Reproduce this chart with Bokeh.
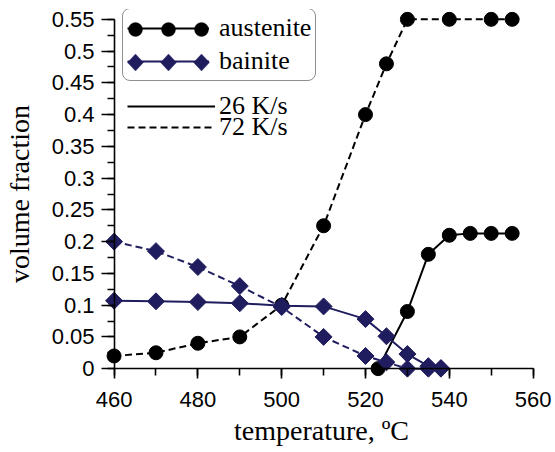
import math
from bokeh.plotting import figure
from bokeh.models import (Range1d, SingleIntervalTicker, CustomJSTickFormatter,
                          Legend, LegendItem, LinearAxis, PolyAnnotation)
from bokeh.embed import file_html
from bokeh.resources import INLINE

# ---- data ----
temp_aus_26 = [523, 530, 535, 540, 545, 550, 555]
aus_26 = [0.0, 0.09, 0.18, 0.21, 0.213, 0.213, 0.213]

temp_aus_72 = [460, 470, 480, 490, 500, 510, 520, 525, 530, 540, 550, 555]
aus_72 = [0.02, 0.025, 0.04, 0.05, 0.1, 0.225, 0.4, 0.48, 0.55, 0.55, 0.55, 0.55]

temp_bai_26 = [460, 470, 480, 490, 500, 510, 520, 525, 530, 535, 538]
bai_26 = [0.107, 0.106, 0.105, 0.103, 0.099, 0.098, 0.078, 0.051, 0.023, 0.004, 0.001]

temp_bai_72 = [460, 470, 480, 490, 500, 510, 520, 525, 530, 535, 538]
bai_72 = [0.2, 0.185, 0.16, 0.13, 0.097, 0.05, 0.02, 0.01, 0.0, 0.0, 0.0]

series_names = ["austenite", "bainite"]
rate_names = ["26 K/s", "72 K/s"]

# ---- styles ----
BLACK = "#000000"
NAVY = "#201d5f"
SERIF = "Liberation Serif"
SANS = "Liberation Sans"
DASH = "7 4"

p = figure(width=555, height=452, output_backend="svg", toolbar_location=None,
           x_range=Range1d(457, 562), y_range=Range1d(-0.0155, 0.5655),
           min_border_left=101, min_border_right=14, min_border_top=9,
           min_border_bottom=74)
p.outline_line_color = None
p.xgrid.visible = False
p.ygrid.visible = False
p.background_fill_color = "white"
p.border_fill_color = "white"

# austenite
a26_l = p.line(temp_aus_26, aus_26, line_color=BLACK, line_width=2)
p.scatter(temp_aus_26, aus_26, marker="circle", size=14, fill_color=BLACK, line_color=BLACK)
a72_l = p.line(temp_aus_72, aus_72, line_color=BLACK, line_width=2, line_dash=DASH)
p.scatter(temp_aus_72, aus_72, marker="circle", size=14, fill_color=BLACK, line_color=BLACK)

# bainite
b26_l = p.line(temp_bai_26, bai_26, line_color=NAVY, line_width=2)
p.scatter(temp_bai_26, bai_26, marker="square", angle=math.pi / 4, size=12,
          fill_color=NAVY, line_color=NAVY)
b72_l = p.line(temp_bai_72, bai_72, line_color=NAVY, line_width=2, line_dash=DASH)
p.scatter(temp_bai_72, bai_72, marker="square", angle=math.pi / 4, size=12,
          fill_color=NAVY, line_color=NAVY)

# ---- label axes (default, at frame edges): text only ----
xlab = p.xaxis[0]
ylab = p.yaxis[0]
xlab.ticker = SingleIntervalTicker(interval=20, num_minor_ticks=2)
xlab.bounds = (460, 560)
xlab.axis_label = "temperature, ºC"
ylab.ticker = SingleIntervalTicker(interval=0.05, num_minor_ticks=2)
ylab.bounds = (0, 0.55)
ylab.formatter = CustomJSTickFormatter(code="return (Math.round(tick*100)/100).toString();")
ylab.axis_label = "volume fraction"
for ax in (xlab, ylab):
    ax.axis_line_color = None
    ax.major_tick_line_color = None
    ax.minor_tick_line_color = None
    ax.major_tick_in = 0
    ax.major_tick_out = 0
    ax.minor_tick_in = 0
    ax.minor_tick_out = 0
    ax.major_label_text_font = SANS
    ax.major_label_text_font_size = "22px"
    ax.major_label_text_color = BLACK
    ax.axis_label_text_font = SERIF
    ax.axis_label_text_font_size = "28px"
    ax.axis_label_text_font_style = "normal"
    ax.axis_label_text_color = BLACK
xlab.major_label_standoff = 13
xlab.axis_label_standoff = 5
ylab.major_label_standoff = 7
ylab.axis_label_standoff = 14

# ---- line/tick axes fixed at x=460 and y=0 ----
xline = LinearAxis(fixed_location=0, bounds=(460, 560),
                   ticker=SingleIntervalTicker(interval=20, num_minor_ticks=2))
yline = LinearAxis(fixed_location=460, bounds=(0, 0.55),
                   ticker=SingleIntervalTicker(interval=0.05, num_minor_ticks=2))
for ax in (xline, yline):
    ax.axis_line_color = BLACK
    ax.axis_line_width = 1.6
    ax.major_tick_line_color = BLACK
    ax.major_tick_line_width = 1.6
    ax.minor_tick_line_color = BLACK
    ax.minor_tick_line_width = 1.6
    ax.major_tick_in = 0
    ax.minor_tick_in = 0
    ax.minor_tick_out = 7
    ax.major_label_text_alpha = 0
    ax.major_label_text_font_size = "1px"
xline.major_tick_out = 13
yline.major_tick_out = 14
p.add_layout(xline, "below")
p.add_layout(yline, "left")

# ---- legends ----
def style_legend(lg):
    lg.label_text_font = SERIF
    lg.label_text_font_size = "26px"
    lg.label_text_color = BLACK
    lg.background_fill_alpha = 0
    lg.border_line_color = None
    lg.margin = 0

leg1 = Legend(items=[
    LegendItem(label=series_names[0], renderers=[a26_l]),
    LegendItem(label=series_names[1], renderers=[b26_l]),
], location=(21, 297))
style_legend(leg1)
leg1.padding = 4
leg1.glyph_width = 82
leg1.label_standoff = 10
leg1.glyph_height = 30
leg1.spacing = 3
leg1.border_line_color = "#222222"
leg1.border_line_width = 1
if "border_radius" in Legend.properties():
    leg1.border_radius = 8

leg2 = Legend(items=[LegendItem(label=rate_names[0], renderers=[a26_l])],
              location=(26, 257))
leg3 = Legend(items=[LegendItem(label=rate_names[1], renderers=[a72_l])],
              location=(26, 236))
for lg in (leg2, leg3):
    style_legend(lg)
    lg.padding = 0
    lg.glyph_width = 88
    lg.glyph_height = 22
    lg.label_height = 22
    lg.label_standoff = 4
    lg.spacing = 0

p.add_layout(leg1, "center")
p.add_layout(leg2, "center")
p.add_layout(leg3, "center")

# legend sample markers (screen units relative to the frame)
sample_x = [34, 67, 100]
row_y = {"aus": 349, "bai": 316}
for cx in sample_x:
    cy = row_y["aus"]
    n = 28
    xs = [cx + 7 * math.cos(2 * math.pi * k / n) for k in range(n)]
    ys = [cy + 7 * math.sin(2 * math.pi * k / n) for k in range(n)]
    p.add_layout(PolyAnnotation(xs=xs, ys=ys, xs_units="screen", ys_units="screen",
                                fill_color=BLACK, fill_alpha=1, line_color=BLACK,
                                line_width=1))
    cy = row_y["bai"]
    xs = [cx - 8, cx, cx + 8, cx]
    ys = [cy, cy + 8.5, cy, cy - 8.5]
    p.add_layout(PolyAnnotation(xs=xs, ys=ys, xs_units="screen", ys_units="screen",
                                fill_color=NAVY, fill_alpha=1, line_color=NAVY,
                                line_width=1))

open("out.html", "w").write(file_html(p, INLINE))
